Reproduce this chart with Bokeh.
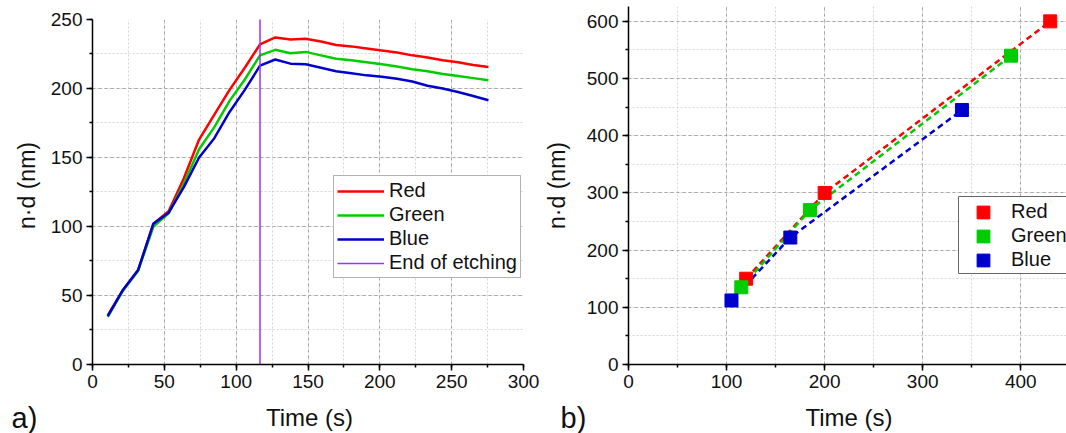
from bokeh.plotting import figure
from bokeh.layouts import row, column
from bokeh.models import (Range1d, SingleIntervalTicker, Legend, LegendItem,
                          BoxAnnotation)
from bokeh.core.properties import value
from bokeh.embed import file_html
from bokeh.resources import INLINE

# ---------------- data: panel a) ----------------
time_a = [10.6, 21.2, 31.8, 42.4, 53.0, 63.6, 74.2, 84.8, 95.4, 106.0, 116.6,
          127.2, 137.8, 148.4, 159.0, 169.6, 180.2, 190.8, 201.4, 212.0, 222.6,
          233.2, 243.8, 254.4, 265.0, 275.6]
red_a = [35.5, 54, 68.5, 102, 111, 135, 163, 181, 199, 215, 232,
         237, 235.5, 236, 234, 231.5, 230.5, 229, 227.5, 226, 224,
         222.5, 220.5, 219, 217, 215.5]
green_a = [34.5, 53.5, 68, 100, 109.5, 131, 156, 172, 191, 206.5, 224,
           228, 225.5, 226.5, 224, 221.5, 220.5, 219, 217.5, 216, 214,
           212.5, 210.5, 209, 207.5, 206]
blue_a = [35, 54, 68.5, 102, 110, 128.5, 150, 164, 183, 199, 216.5,
          221, 218, 217.5, 215, 212.5, 211, 209.5, 208.5, 207, 205,
          202, 200, 197.5, 194.5, 191.5]
etch_end = [116.6, 116.6]
etch_span = [0, 250]

# ---------------- data: panel b) ----------------
red_t = [120, 200, 430]
red_nd = [150, 300, 600]
green_t = [115, 185, 390]
green_nd = [135, 270, 540]
blue_t = [105, 165, 340]
blue_nd = [112, 222, 445]

names = ["Red", "Green", "Blue"]
x_title = "Time (s)"
y_title = "n·d (nm)"
panel_tags = ["a)", "b)"]

COL = {"Red": "#FF0000", "Green": "#00CC00", "Blue": "#0000CC"}
PURPLE = "#9933FF"
FONT = "Liberation Sans"
TXT = "#111111"

# layout geometry (pixels)
WA, WB, H_PLOT, H_STRIP = 540, 526, 400, 33
LA, RA = 92, 17
LB, RB = 87, 0
TOP = 6
BOTTOM = 36


def style(p, xint, yint):
    xt = SingleIntervalTicker(interval=xint, num_minor_ticks=2)
    yt = SingleIntervalTicker(interval=yint, num_minor_ticks=2)
    p.xaxis.ticker = xt
    p.yaxis.ticker = yt
    p.xgrid.ticker = xt
    p.ygrid.ticker = yt
    for ax in (p.xaxis[0], p.yaxis[0]):
        ax.axis_line_color = "black"
        ax.axis_line_width = 1.5
        ax.major_tick_line_color = "black"
        ax.major_tick_line_width = 1.5
        ax.minor_tick_line_color = "black"
        ax.minor_tick_line_width = 1.5
        ax.major_tick_in = 0
        ax.major_tick_out = 6
        ax.minor_tick_in = 0
        ax.minor_tick_out = 3
        ax.major_label_text_font = FONT
        ax.major_label_text_font_size = "19px"
        ax.major_label_text_color = TXT
        ax.major_label_standoff = 4
        ax.axis_label_text_font = FONT
        ax.axis_label_text_font_size = "23px"
        ax.axis_label_text_font_style = "normal"
        ax.axis_label_text_color = TXT
    for g in (p.xgrid[0], p.ygrid[0]):
        g.grid_line_color = "#A6A6A6"
        g.grid_line_dash = "3 3"
        g.grid_line_width = 1
        g.minor_grid_line_color = "#D6D6D6"
        g.minor_grid_line_dash = "2 2"
        g.minor_grid_line_width = 1
    p.outline_line_color = None
    p.background_fill_color = "white"
    p.border_fill_color = "white"


# ---------------- panel a ----------------
# y range top slightly above 250 so that 250 sits ~13 px below the shared frame top
pa = figure(width=WA, height=H_PLOT, output_backend="svg", toolbar_location=None,
            title_location=None,
            x_range=Range1d(0, 300), y_range=Range1d(0, 259.4),
            y_axis_label=y_title,
            min_border_left=LA, min_border_right=RA, min_border_top=TOP,
            min_border_bottom=BOTTOM)
style(pa, 50, 50)
pa.yaxis.bounds = (0, 250)
pa.yaxis.axis_label_standoff = 8
# blank out the grid above the end of the y axis
pa.add_layout(BoxAnnotation(bottom=249.6, fill_color="white", fill_alpha=1,
                            line_alpha=0, level="underlay"))

ra = pa.line(time_a, red_a, line_color=COL["Red"], line_width=2.5)
ga = pa.line(time_a, green_a, line_color=COL["Green"], line_width=2.5)
ba = pa.line(time_a, blue_a, line_color=COL["Blue"], line_width=2.5)
ea = pa.line(etch_end, etch_span, line_color=PURPLE, line_width=1.5)

leg_a = Legend(items=[LegendItem(label="Red", renderers=[ra]),
                      LegendItem(label="Green", renderers=[ga]),
                      LegendItem(label="Blue", renderers=[ba]),
                      LegendItem(label="End of etching", renderers=[ea])],
               location=(241, 86), glyph_width=47, glyph_height=20,
               label_height=20, label_standoff=5, spacing=1, padding=3,
               margin=0, label_text_font=FONT, label_text_font_size="20px",
               label_text_color=TXT, border_line_color="#666666",
               border_line_width=1, background_fill_color="white",
               background_fill_alpha=1)
pa.add_layout(leg_a)

# ---------------- panel b ----------------
pb = figure(width=WB, height=H_PLOT, output_backend="svg", toolbar_location=None,
            title_location=None,
            x_range=Range1d(0, 446.6), y_range=Range1d(0, 626),
            y_axis_label=y_title,
            min_border_left=LB, min_border_right=RB, min_border_top=TOP,
            min_border_bottom=BOTTOM)
style(pb, 100, 100)
pb.yaxis.axis_label_standoff = 14

series_b = {"Red": (red_t, red_nd), "Green": (green_t, green_nd),
            "Blue": (blue_t, blue_nd)}
for n in names:
    t, v = series_b[n]
    pb.line(t, v, line_color=COL[n], line_width=2.5, line_dash="6 4")
sq = {}
for n in names:
    t, v = series_b[n]
    sq[n] = pb.rect(t, v, width=13, height=13, width_units="screen",
                    height_units="screen", fill_color=COL[n], line_color=COL[n])

pb.add_layout(BoxAnnotation(left=330, right=700, bottom=91, top=168,
                            left_units="screen", right_units="screen",
                            bottom_units="screen", top_units="screen",
                            fill_color="white", fill_alpha=1,
                            line_color="#666666", line_width=1, line_alpha=1))
leg_b = Legend(items=[LegendItem(label=n, renderers=[sq[n]]) for n in names],
               location=(347, 93), glyph_width=16, glyph_height=16,
               label_height=20, label_standoff=20, spacing=1, padding=0,
               margin=0, label_text_font=FONT, label_text_font_size="20px",
               label_text_color=TXT, border_line_alpha=0,
               background_fill_alpha=0)
pb.add_layout(leg_b)

# ---------------- strip with x titles and panel tags ----------------
W = WA + WB
strip = figure(width=W, height=H_STRIP, output_backend="svg",
               toolbar_location=None, title_location=None,
               x_range=Range1d(0, W), y_range=Range1d(0, H_STRIP),
               min_border=0, min_border_left=0, min_border_right=0,
               min_border_top=0, min_border_bottom=0)
strip.axis.visible = False
strip.grid.visible = False
strip.outline_line_color = None
strip.background_fill_color = "white"
strip.border_fill_color = "white"

fw_a = WA - LA - RA
fw_b = WB - LB - RB
title_x = [LA + fw_a / 2 + 1.5, WA + LB + fw_b / 2 + 2]
tag_x = [11, WA + 20]
strip.text(x=title_x, y=[H_STRIP - 17] * 2, text=[x_title, x_title],
           text_font=value(FONT), text_font_size="24px", text_color=TXT,
           text_align="center", text_baseline="middle")
strip.text(x=tag_x, y=[H_STRIP - 17] * 2, text=panel_tags,
           text_font=value(FONT), text_font_size="29px", text_color=TXT,
           text_align="left", text_baseline="middle")

layout = column(row(pa, pb), strip)
open("out.html", "w").write(file_html(layout, INLINE))
